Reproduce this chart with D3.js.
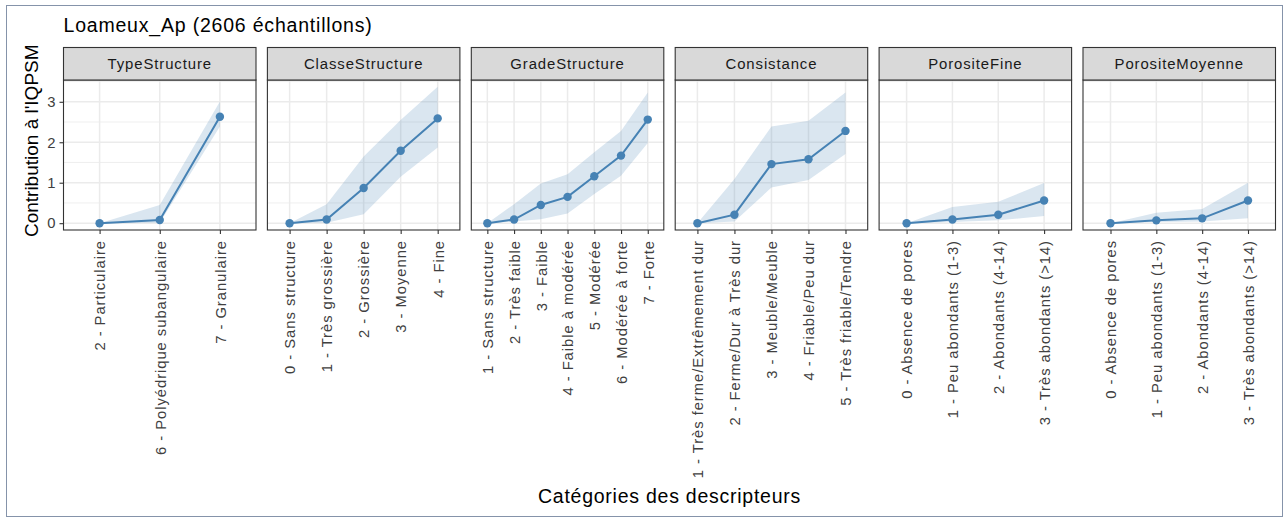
<!DOCTYPE html>
<html>
<head>
<meta charset="utf-8">
<script src="https://cdn.jsdelivr.net/npm/d3@7"></script>
<style>
  html, body { margin: 0; padding: 0; background: #ffffff; }
  svg { display: block; }
</style>
</head>
<body>
<svg id="chart" width="1285" height="518"></svg>
<script>
// ---------- DATA ----------
const chartTitle = "Loameux_Ap (2606 échantillons)";
const yTitle = "Contribution à l'IQPSM";
const xTitle = "Catégories des descripteurs";
const panelNames = ["TypeStructure", "ClasseStructure", "GradeStructure", "Consistance", "PorositeFine", "PorositeMoyenne"];
const yTicks = [0, 1, 2, 3];

const catTypeStructure = ["2 - Particulaire", "6 - Polyédrique subangulaire", "7 - Granulaire"];
const valTypeStructure = [0, 0.08, 2.63];
const lowTypeStructure = [0, 0.01, 2.39];
const highTypeStructure = [0, 0.45, 3.01];

const catClasseStructure = ["0 - Sans structure", "1 - Très grossière", "2 - Grossière", "3 - Moyenne", "4 - Fine"];
const valClasseStructure = [0, 0.09, 0.87, 1.79, 2.59];
const lowClasseStructure = [0, 0.01, 0.22, 1.15, 1.87];
const highClasseStructure = [0, 0.47, 1.65, 2.55, 3.37];

const catGradeStructure = ["1 - Sans structure", "2 - Très faible", "3 - Faible", "4 - Faible à modérée", "5 - Modérée", "6 - Modérée à forte", "7 - Forte"];
const valGradeStructure = [0, 0.09, 0.45, 0.65, 1.16, 1.67, 2.56];
const lowGradeStructure = [0, 0.04, 0.10, 0.24, 0.72, 1.17, 1.98];
const highGradeStructure = [0, 0.47, 0.98, 1.21, 1.75, 2.28, 3.23];

const catConsistance = ["1 - Très ferme/Extrêmement dur", "2 - Ferme/Dur à Très dur", "3 - Meuble/Meuble", "4 - Friable/Peu dur", "5 - Très friable/Tendre"];
const valConsistance = [0, 0.21, 1.46, 1.58, 2.28];
const lowConsistance = [0, 0.04, 0.88, 1.07, 1.71];
const highConsistance = [0, 1.09, 2.39, 2.53, 3.23];

const catPorositeFine = ["0 - Absence de pores", "1 - Peu abondants (1-3)", "2 - Abondants (4-14)", "3 - Très abondants (>14)"];
const valPorositeFine = [0, 0.09, 0.21, 0.56];
const lowPorositeFine = [0, 0.03, 0.07, 0.18];
const highPorositeFine = [0, 0.40, 0.53, 0.99];

const catPorositeMoyenne = ["0 - Absence de pores", "1 - Peu abondants (1-3)", "2 - Abondants (4-14)", "3 - Très abondants (>14)"];
const valPorositeMoyenne = [0, 0.07, 0.12, 0.56];
const lowPorositeMoyenne = [0, 0.03, 0.04, 0.12];
const highPorositeMoyenne = [0, 0.26, 0.35, 1.00];

// ---------- BUILD TABLE ----------
const panelData = [
  [catTypeStructure, valTypeStructure, lowTypeStructure, highTypeStructure],
  [catClasseStructure, valClasseStructure, lowClasseStructure, highClasseStructure],
  [catGradeStructure, valGradeStructure, lowGradeStructure, highGradeStructure],
  [catConsistance, valConsistance, lowConsistance, highConsistance],
  [catPorositeFine, valPorositeFine, lowPorositeFine, highPorositeFine],
  [catPorositeMoyenne, valPorositeMoyenne, lowPorositeMoyenne, highPorositeMoyenne]
].map(([c, v, l, h], i) => ({
  name: panelNames[i],
  rows: c.map((cat, j) => ({ cat, val: v[j], low: l[j], high: h[j] }))
}));

// ---------- LAYOUT ----------
const FONT = "'Liberation Sans', Arial, Helvetica, sans-serif";
const svg = d3.select("#chart");
const stripTop = 47.5, stripBot = 80, panelBot = 230;
const panelLeft0 = 63.5, panelStep = 203.9, panelW = 192.5;

// frame
svg.append("rect").attr("x", 6.5).attr("y", 5.5).attr("width", 1276).attr("height", 511)
  .attr("fill", "#ffffff").attr("stroke", "#8593AA").attr("stroke-width", 1);

const allVals = panelData.flatMap(p => p.rows.flatMap(r => [r.low, r.high, r.val]));
const [dMin, dMax] = d3.extent(allVals);
const pad = (dMax - dMin) * 0.05;
const y = d3.scaleLinear().domain([dMin - pad, dMax + pad]).range([panelBot, stripBot]);
const minorTicks = d3.range(0.5, dMax + pad, 1);

const steel = "#4682B4";

panelData.forEach((p, i) => {
  const x0 = panelLeft0 + i * panelStep;
  const g = svg.append("g");
  const x = d3.scalePoint().domain(p.rows.map(r => r.cat)).range([x0, x0 + panelW]).padding(0.6);

  // background
  g.append("rect").attr("x", x0).attr("y", stripBot).attr("width", panelW).attr("height", panelBot - stripBot)
    .attr("fill", "#ffffff");

  // grid minor
  g.selectAll(".minor").data(minorTicks).join("line")
    .attr("x1", x0).attr("x2", x0 + panelW)
    .attr("y1", d => y(d)).attr("y2", d => y(d))
    .attr("stroke", "#EBEBEB").attr("stroke-width", 0.8);
  // grid major
  g.selectAll(".majorY").data(yTicks).join("line")
    .attr("x1", x0).attr("x2", x0 + panelW)
    .attr("y1", d => y(d)).attr("y2", d => y(d))
    .attr("stroke", "#EBEBEB").attr("stroke-width", 1.5);
  g.selectAll(".majorX").data(x.domain()).join("line")
    .attr("x1", d => x(d)).attr("x2", d => x(d))
    .attr("y1", stripBot).attr("y2", panelBot)
    .attr("stroke", "#EBEBEB").attr("stroke-width", 1.5);

  // ribbon
  const area = d3.area().x(d => x(d.cat)).y0(d => y(d.low)).y1(d => y(d.high));
  g.append("path").datum(p.rows).attr("d", area)
    .attr("fill", steel).attr("fill-opacity", 0.2);

  // line
  const line = d3.line().x(d => x(d.cat)).y(d => y(d.val));
  g.append("path").datum(p.rows).attr("d", line)
    .attr("fill", "none").attr("stroke", steel).attr("stroke-width", 2);

  // points
  g.selectAll(".pt").data(p.rows).join("circle")
    .attr("cx", d => x(d.cat)).attr("cy", d => y(d.val)).attr("r", 4.2)
    .attr("fill", steel);

  // panel border
  g.append("rect").attr("x", x0).attr("y", stripBot).attr("width", panelW).attr("height", panelBot - stripBot)
    .attr("fill", "none").attr("stroke", "#333333").attr("stroke-width", 1.1);

  // strip
  g.append("rect").attr("x", x0).attr("y", stripTop).attr("width", panelW).attr("height", stripBot - stripTop)
    .attr("fill", "#D9D9D9").attr("stroke", "#333333").attr("stroke-width", 1.1);
  g.append("text").attr("x", x0 + panelW / 2).attr("y", (stripTop + stripBot) / 2).attr("dy", "0.36em")
    .attr("text-anchor", "middle").attr("font-family", FONT).attr("font-size", 14.9)
    .attr("letter-spacing", 0.9).attr("fill", "#1A1A1A").text(p.name);

  // x axis
  const xAxis = g.append("g").attr("transform", `translate(0,${panelBot})`)
    .call(d3.axisBottom(x).tickSize(4).tickSizeOuter(0).tickPadding(0));
  xAxis.select(".domain").remove();
  xAxis.selectAll(".tick line").attr("stroke", "#333333").attr("stroke-width", 1.1);
  xAxis.selectAll(".tick text")
    .attr("transform", "translate(0,10) rotate(-90)")
    .attr("x", 0).attr("y", 0).attr("dy", "0.36em")
    .attr("text-anchor", "end")
    .attr("font-family", FONT).attr("font-size", 14.8).attr("letter-spacing", 0.95)
    .attr("fill", "#404040");

  // y axis only on first panel
  if (i === 0) {
    const yAxis = g.append("g").attr("transform", `translate(${x0},0)`)
      .call(d3.axisLeft(y).tickValues(yTicks).tickFormat(d3.format("d")).tickSize(4).tickPadding(4));
    yAxis.select(".domain").remove();
    yAxis.selectAll(".tick line").attr("stroke", "#333333").attr("stroke-width", 1.1);
    yAxis.selectAll(".tick text").attr("font-family", FONT).attr("font-size", 14.8)
      .attr("fill", "#404040");
  }
});

// titles
svg.append("text").attr("x", 63.5).attr("y", 32).attr("font-family", FONT).attr("font-size", 19.5)
  .attr("letter-spacing", 0.8).attr("fill", "#000000").text(chartTitle);

svg.append("text").attr("transform", `translate(38,${(stripTop + panelBot) / 2 + 2}) rotate(-90)`)
  .attr("text-anchor", "middle").attr("font-family", FONT).attr("font-size", 19)
  .attr("letter-spacing", 0).attr("fill", "#000000").text(yTitle);

svg.append("text").attr("x", panelLeft0 + (5 * panelStep + panelW) / 2).attr("y", 503)
  .attr("text-anchor", "middle").attr("font-family", FONT).attr("font-size", 19.5)
  .attr("letter-spacing", 0.75).attr("fill", "#000000").text(xTitle);
</script>
</body>
</html>
